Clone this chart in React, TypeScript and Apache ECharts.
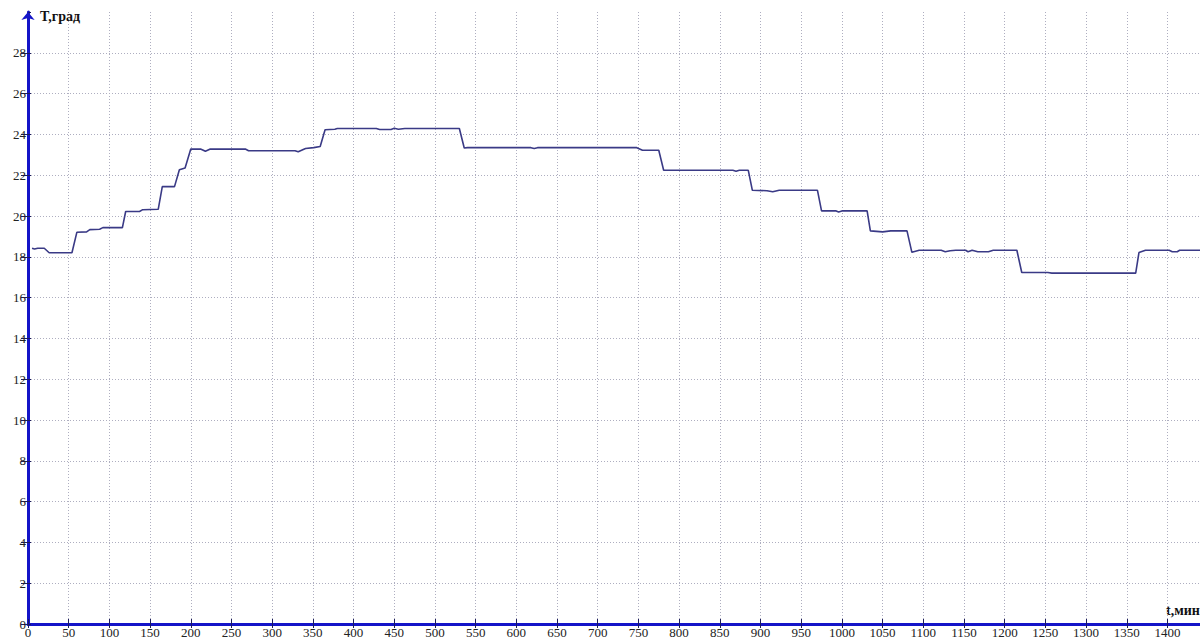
import React, { useEffect, useRef } from "react";
import * as echarts from "echarts";

const times = [5, 8, 12, 20, 26, 54, 60, 72, 76, 88, 92, 116, 120, 137, 141, 160, 165, 180, 186, 193, 200, 212, 218, 224, 267, 271, 328, 332, 341, 351, 359, 365, 377, 380, 428, 432, 446, 450, 455, 463, 530, 536, 540, 618, 622, 626, 748, 755, 775, 781, 866, 870, 874, 885, 890, 908, 915, 923, 970, 975, 993, 996, 1000, 1031, 1035, 1050, 1060, 1080, 1086, 1095, 1122, 1127, 1133, 1140, 1152, 1155, 1160, 1167, 1180, 1186, 1215, 1221, 1253, 1258, 1361, 1365, 1373, 1402, 1406, 1412, 1415, 1440];
const temps = [18.42, 18.38, 18.42, 18.42, 18.2, 18.2, 19.2, 19.22, 19.33, 19.35, 19.43, 19.43, 20.22, 20.22, 20.31, 20.33, 21.44, 21.44, 22.27, 22.35, 23.28, 23.28, 23.17, 23.28, 23.28, 23.2, 23.2, 23.15, 23.31, 23.35, 23.41, 24.23, 24.25, 24.29, 24.29, 24.24, 24.24, 24.3, 24.25, 24.29, 24.29, 23.33, 23.35, 23.35, 23.31, 23.35, 23.35, 23.22, 23.22, 22.24, 22.24, 22.19, 22.24, 22.24, 21.26, 21.24, 21.19, 21.26, 21.26, 20.25, 20.25, 20.2, 20.25, 20.25, 19.27, 19.22, 19.27, 19.27, 18.22, 18.32, 18.32, 18.25, 18.3, 18.32, 18.32, 18.25, 18.32, 18.25, 18.25, 18.32, 18.32, 17.23, 17.23, 17.2, 17.2, 18.21, 18.32, 18.32, 18.25, 18.25, 18.32, 18.32];

const xMin = 0;
const xMax = 1440;
const xStep = 50;
const yMin = 0;
const yMax = 30;
const yStep = 2;
const yTitle = "T,град";
const xTitle = "t,мин";

export default function App() {
  const ref = useRef<HTMLDivElement>(null);
  useEffect(() => {
    const chart = echarts.init(ref.current!, null, { renderer: "svg" });
    const axisBlue = "#1414c8";
    const tickColor = "#1c1c5c";
    const gridColor = "#aeaec0";
    const labelFont = { fontFamily: "Liberation Serif", fontSize: 13, color: "#222" };
    chart.setOption({
      animation: false,
      backgroundColor: "#ffffff",
      grid: { left: 28, right: -6, top: 12, bottom: 17 },
      xAxis: [
        {
          type: "value",
          min: xMin,
          max: xMax,
          interval: xStep,
          axisLine: { show: true, onZero: false, lineStyle: { color: axisBlue, width: 3 } },
          axisTick: { show: true, length: 4, lineStyle: { color: tickColor, width: 1 } },
          axisLabel: { ...labelFont, margin: 2, showMaxLabel: false, formatter: (v: number) => String(v) },
          splitLine: { show: true, showMaxLine: false, lineStyle: { color: gridColor, type: [1, 2], width: 1 } },
        },
        {
          type: "value",
          position: "bottom",
          min: xMin,
          max: xMax,
          interval: xStep,
          axisLine: { show: false },
          axisTick: { show: true, inside: true, length: 5, lineStyle: { color: tickColor, width: 1 } },
          axisLabel: { show: false },
          splitLine: { show: false },
        },
      ],
      yAxis: [
        {
          type: "value",
          min: yMin,
          max: yMax,
          interval: yStep,
          axisLine: {
            show: true,
            onZero: false,
            symbol: ["none", "arrow"],
            symbolSize: [10, 8],
            lineStyle: { color: axisBlue, width: 3 },
          },
          axisTick: { show: true, length: 7, lineStyle: { color: tickColor, width: 1 } },
          axisLabel: { ...labelFont, margin: 2, showMaxLabel: false, formatter: (v: number) => String(v) },
          splitLine: { show: true, showMaxLine: false, showMinLine: false, lineStyle: { color: gridColor, type: [1, 2], width: 1 } },
        },
        {
          type: "value",
          position: "left",
          min: yMin,
          max: yMax,
          interval: yStep,
          axisLine: { show: false },
          axisTick: { show: true, inside: true, length: 3, lineStyle: { color: tickColor, width: 1 } },
          axisLabel: { show: false },
          splitLine: { show: false },
        },
      ],
      series: [
        {
          type: "line",
          xAxisIndex: 0,
          yAxisIndex: 0,
          data: times.map((t, i) => [t, temps[i]]),
          showSymbol: false,
          symbol: "none",
          lineStyle: { color: "#3a3a86", width: 1.6 },
        },
      ],
      graphic: [
        {
          type: "text",
          left: 40,
          top: 9,
          style: { text: yTitle, fontFamily: "Liberation Serif", fontSize: 14, fontWeight: "bold", fill: "#111" },
        },
        {
          type: "text",
          left: 1166,
          top: 603,
          style: { text: xTitle, fontFamily: "Liberation Serif", fontSize: 14, fontWeight: "bold", fill: "#111" },
        },
      ],
    });
    return () => chart.dispose();
  }, []);
  return (
    <div
      ref={ref}
      style={{ position: "fixed", left: 0, top: 0, width: 1200, height: 641, background: "#fff" }}
    />
  );
}
